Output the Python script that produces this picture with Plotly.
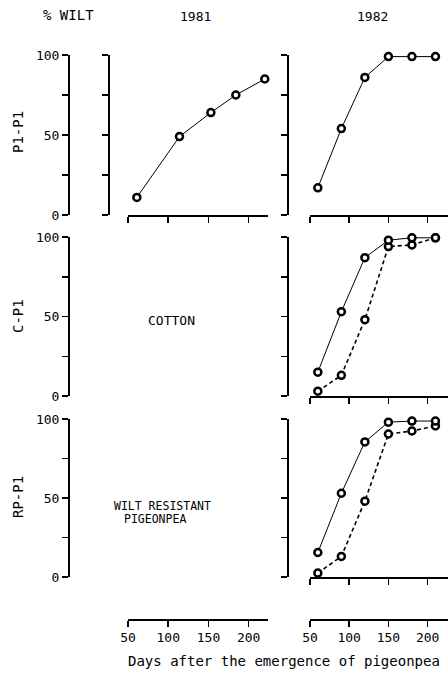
import plotly.graph_objects as go

# ---- data ----
days_1981 = [61, 114, 153, 184, 220]
p1p1_1981 = [11, 49, 64, 75, 85]

days_1982 = [60, 90, 120, 150, 180, 210]
p1p1_1982 = [17, 54, 86, 99, 99, 99]
cp1_solid_1982 = [15, 53, 87, 98, 99.5, 99.5]
cp1_dashed_1982 = [3, 13, 48, 94, 95, 99.5]
rpp1_solid_1982 = [15.5, 53, 85.5, 98, 98.7, 98.7]
rpp1_dashed_1982 = [2.5, 13, 48, 90.5, 92.4, 95.6]

ytick_vals = [0, 25, 50, 75, 100]
ytick_text = ["0", "", "50", "", "100"]
xtick_vals = [50, 100, 150, 200]
xtick_text = ["50", "100", "150", "200"]
row_labels = ["P1-P1", "C-P1", "RP-P1"]

W, H = 448, 677
FONT = "DejaVu Sans Mono"


def fx(px):
    return px / W


def fy(py):
    return 1 - py / H


fig = go.Figure()

marker = dict(symbol="circle", size=7, color="white", line=dict(color="black", width=2.5))
solid = dict(color="black", width=1)
dashed = dict(color="black", width=1.6, dash="4px,3px")


def add_line(x, y, xa, ya, line):
    fig.add_trace(go.Scatter(x=x, y=y, xaxis=xa, yaxis=ya, mode="lines+markers",
                             line=line, marker=marker, showlegend=False, hoverinfo="skip",
                             cliponaxis=False))


def add_dummy(xa, ya):
    fig.add_trace(go.Scatter(x=[None], y=[None], xaxis=xa, yaxis=ya, mode="markers",
                             showlegend=False, hoverinfo="skip"))


add_line(days_1981, p1p1_1981, "x", "y", solid)
add_line(days_1982, p1p1_1982, "x2", "y2", solid)
add_line(days_1982, cp1_dashed_1982, "x3", "y3", dashed)
add_line(days_1982, cp1_solid_1982, "x3", "y3", solid)
add_line(days_1982, rpp1_dashed_1982, "x4", "y4", dashed)
add_line(days_1982, rpp1_solid_1982, "x4", "y4", solid)
add_dummy("x", "y5")
add_dummy("x", "y6")
add_dummy("x", "y7")
add_dummy("x5", "y")
add_dummy("x6", "y")

axis_common = dict(showgrid=False, zeroline=False, showline=True, linecolor="black",
                   linewidth=1.6, ticks="outside", ticklen=6, tickwidth=1.5,
                   tickcolor="black", fixedrange=True, automargin=False,
                   tickfont=dict(family=FONT, size=13, color="black"))

rows = [(55, 215), (237, 396), (419, 577)]
x81 = [fx(128), fx(268)]
x82 = [fx(310), fx(448)]
r81 = [50, 224]
r82 = [50, 226]

layout = dict(width=W, height=H,
              margin=dict(l=0, r=0, t=0, b=0, pad=0, autoexpand=False),
              paper_bgcolor="white", plot_bgcolor="rgba(0,0,0,0)", showlegend=False)

# row 1 1981 panel
layout["xaxis"] = dict(axis_common, domain=x81, range=r81, anchor="y",
                       tickvals=xtick_vals, showticklabels=False)
layout["yaxis"] = dict(axis_common, domain=[fy(rows[0][1]), fy(rows[0][0])], range=[0, 100],
                       anchor="free", position=fx(108), tickvals=ytick_vals, showticklabels=False)
# 1982 panels
for i, (top, bot) in enumerate(rows):
    n = i + 2
    layout[f"xaxis{n}"] = dict(axis_common, domain=x82, range=r82, anchor=f"y{n}",
                               tickvals=xtick_vals, showticklabels=False)
    layout[f"yaxis{n}"] = dict(axis_common, domain=[fy(bot), fy(top)], range=[0, 100],
                               anchor="free", position=fx(287), tickvals=ytick_vals,
                               showticklabels=False)
# outer labelled y axes
for i, (top, bot) in enumerate(rows):
    n = i + 5
    layout[f"yaxis{n}"] = dict(axis_common, domain=[fy(bot), fy(top)], range=[0, 100],
                               anchor="free", position=fx(68), tickvals=ytick_vals,
                               ticktext=ytick_text, showticklabels=True)
# bottom labelled x axes
layout["xaxis5"] = dict(axis_common, domain=x81, range=r81, anchor="free", position=fy(619),
                        tickvals=xtick_vals, ticktext=xtick_text, showticklabels=True)
layout["xaxis6"] = dict(axis_common, domain=x82, range=r82, anchor="free", position=fy(619),
                        tickvals=xtick_vals, ticktext=xtick_text, showticklabels=True)

fig.update_layout(**layout)


def ann(text, px, py, size, angle=0):
    fig.add_annotation(text=text, x=fx(px), y=fy(py), xref="paper", yref="paper",
                       showarrow=False, textangle=angle, xanchor="center", yanchor="middle",
                       font=dict(family=FONT, size=size, color="black"))


ann("% WILT", 68, 15, 14)
ann("1981", 195, 17, 13)
ann("1982", 372, 17, 13)
ann("COTTON", 171, 320, 13)
ann("WILT RESISTANT", 162, 506, 11.5)
ann("PIGEONPEA", 155, 519, 11.5)
ann(row_labels[0], 18, 132, 14, -90)
ann(row_labels[1], 18, 316, 14, -90)
ann(row_labels[2], 18, 497, 14, -90)
ann("Days after the emergence of pigeonpea", 284, 661, 14)

fig.write_html("out.html", config={"displayModeBar": False, "staticPlot": True},
               post_script="document.body.style.margin='0';document.body.style.padding='0';"
                           "document.body.style.overflow='hidden';")
